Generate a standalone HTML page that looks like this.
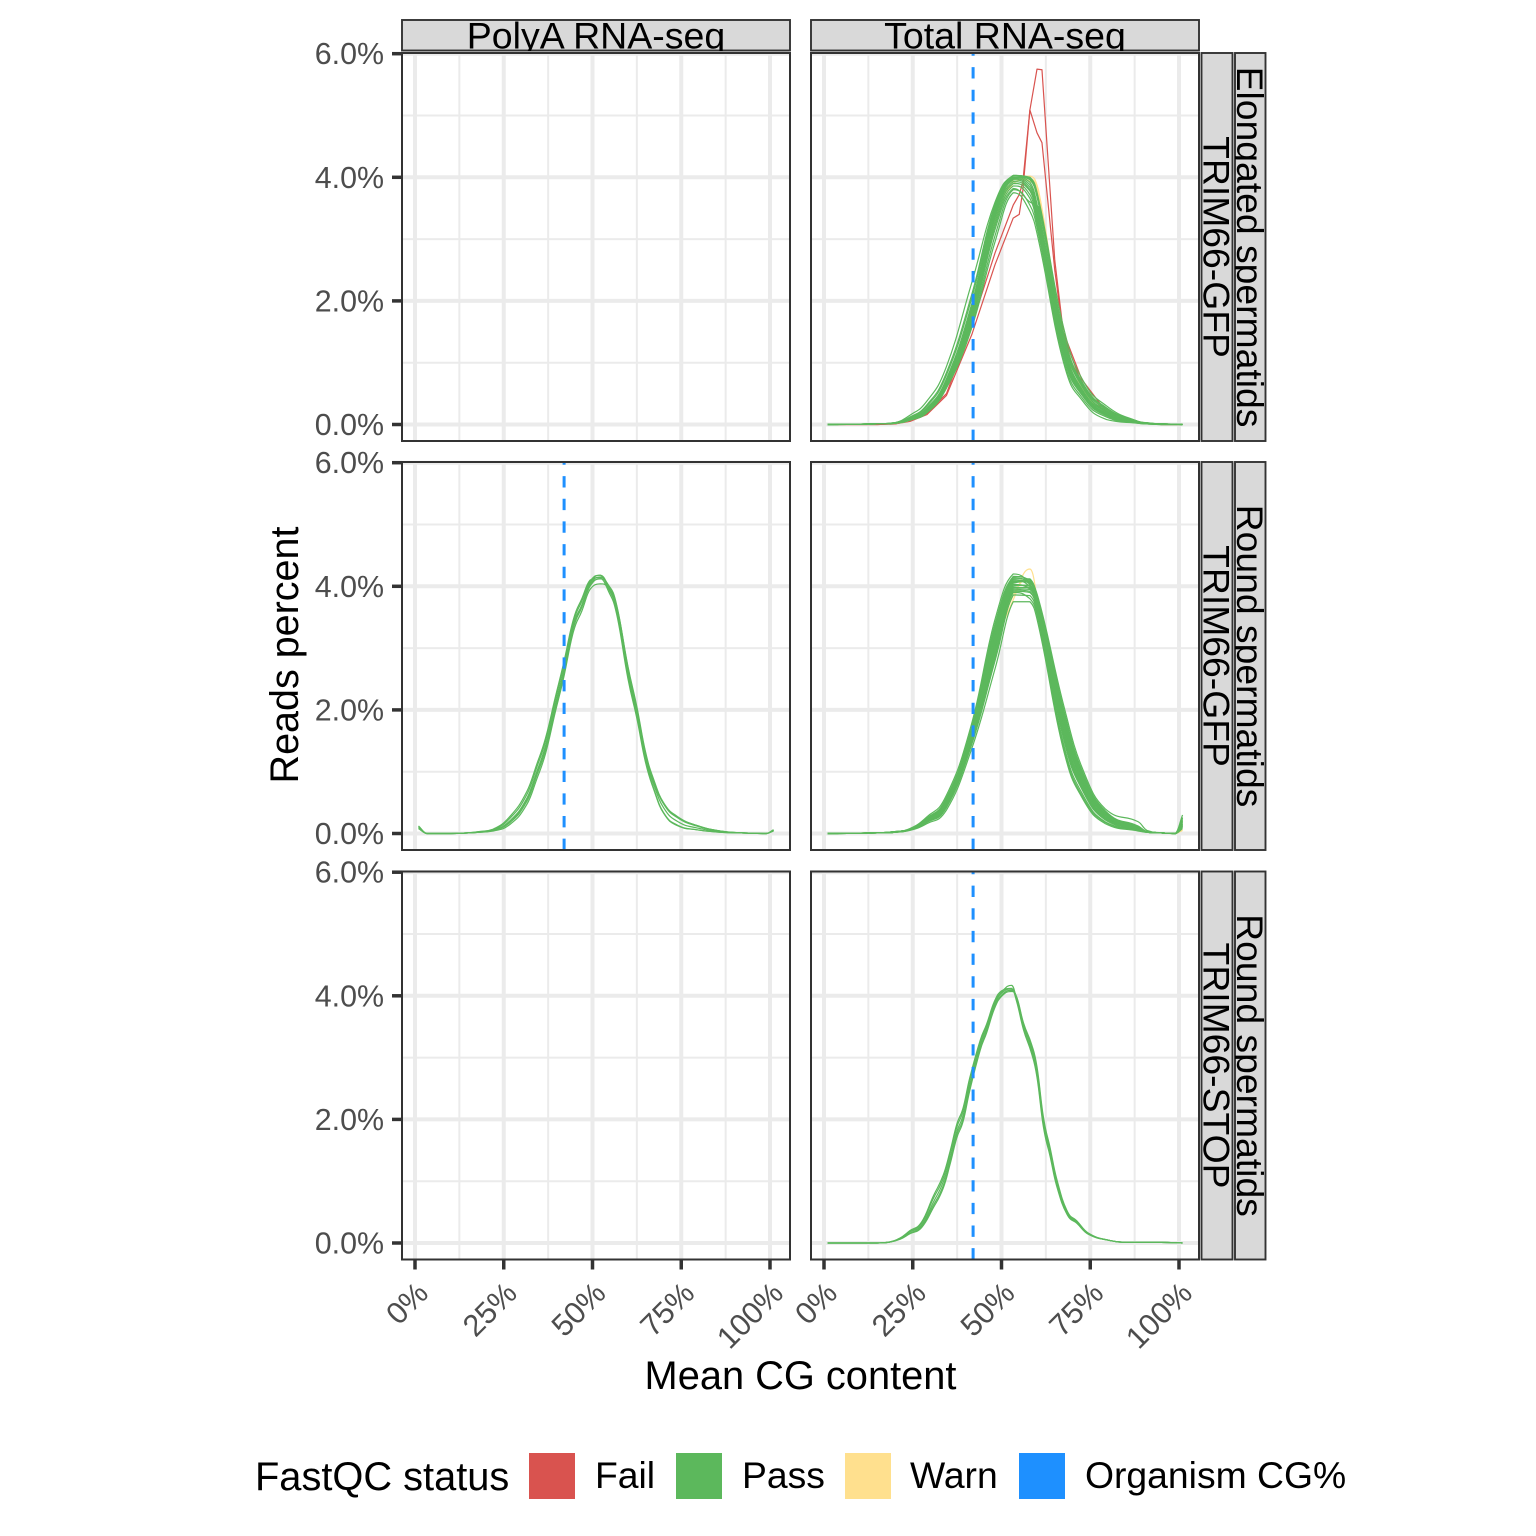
<!DOCTYPE html>
<html lang="en">
<head>
<meta charset="utf-8">
<title>FastQC GC content</title>
<style>
html,body{margin:0;padding:0;background:#fff;}
svg{display:block;font-family:"Liberation Sans",sans-serif;}
.strip{fill:#d9d9d9;stroke:#333;stroke-width:1.9;}
.st{font-size:37.5px;fill:#000;}
.sr{font-size:37.3px;fill:#000;}
.tt{font-size:39.8px;fill:#000;}
.ty{font-size:39.5px;fill:#000;}
.lg{font-size:37.3px;fill:#000;}
</style>
</head>
<body>
<svg id="chart" xmlns="http://www.w3.org/2000/svg" width="1536" height="1536" viewBox="0 0 1536 1536">
<defs>
<clipPath id="c1"><rect x="402" y="20" width="388" height="31"/></clipPath>
<clipPath id="c2"><rect x="811" y="20" width="388" height="31"/></clipPath>
<clipPath id="r1"><rect x="1201.5" y="53" width="31" height="388"/></clipPath>
<clipPath id="r2"><rect x="1235" y="53" width="30.5" height="388"/></clipPath>
<clipPath id="r3"><rect x="1201.5" y="462" width="31" height="388"/></clipPath>
<clipPath id="r4"><rect x="1235" y="462" width="30.5" height="388"/></clipPath>
<clipPath id="r5"><rect x="1201.5" y="871.5" width="31" height="388"/></clipPath>
<clipPath id="r6"><rect x="1235" y="871.5" width="30.5" height="388"/></clipPath>
</defs>
<rect width="1536" height="1536" fill="#fff"/>
<g id="plot-layer"></g>

<g>
<rect class="strip" x="402" y="20" width="388" height="30.5"/>
<g clip-path="url(#c1)"><text class="st" x="596" y="48.5" text-anchor="middle">PolyA RNA-seq</text></g>
</g>
<g>
<rect class="strip" x="811" y="20" width="388" height="30.5"/>
<g clip-path="url(#c2)"><text class="st" x="1005" y="48.5" text-anchor="middle">Total RNA-seq</text></g>
</g>

<g>
<rect class="strip" x="1201.5" y="53" width="31" height="388"/>
<g clip-path="url(#r1)"><text class="sr" transform="translate(1203.5,247) rotate(90)" text-anchor="middle">TRIM66-GFP</text></g>
</g>
<g>
<rect class="strip" x="1235" y="53" width="30.5" height="388"/>
<g clip-path="url(#r2)"><text class="sr" transform="translate(1237,247) rotate(90)" text-anchor="middle">Elongated spermatids</text></g>
</g>
<g>
<rect class="strip" x="1201.5" y="462" width="31" height="388"/>
<g clip-path="url(#r3)"><text class="sr" transform="translate(1203.5,656) rotate(90)" text-anchor="middle">TRIM66-GFP</text></g>
</g>
<g>
<rect class="strip" x="1235" y="462" width="30.5" height="388"/>
<g clip-path="url(#r4)"><text class="sr" transform="translate(1237,656) rotate(90)" text-anchor="middle">Round spermatids</text></g>
</g>
<g>
<rect class="strip" x="1201.5" y="871.5" width="31" height="388"/>
<g clip-path="url(#r5)"><text class="sr" transform="translate(1203.5,1065.5) rotate(90)" text-anchor="middle">TRIM66-STOP</text></g>
</g>
<g>
<rect class="strip" x="1235" y="871.5" width="30.5" height="388"/>
<g clip-path="url(#r6)"><text class="sr" transform="translate(1237,1065.5) rotate(90)" text-anchor="middle">Round spermatids</text></g>
</g>

<text class="tt" x="800.5" y="1389" text-anchor="middle">Mean CG content</text>
<text class="ty" transform="translate(298,655) rotate(-90)" text-anchor="middle">Reads percent</text>

<g>
<text class="tt" x="255" y="1490">FastQC status</text>
<rect x="529" y="1453" width="46" height="46" fill="#d9534f"/>
<text class="lg" x="595" y="1488">Fail</text>
<rect x="676" y="1453" width="46" height="46" fill="#5cb85c"/>
<text class="lg" x="742" y="1488">Pass</text>
<rect x="845" y="1453" width="46" height="46" fill="#ffe08e"/>
<text class="lg" x="910" y="1488">Warn</text>
<rect x="1019" y="1453" width="46" height="46" fill="#1e90ff"/>
<text class="lg" x="1085" y="1488">Organism CG%</text>
</g>
</svg>

<script>
/* ---------- axis data ---------- */
const xTickValues = [0, 25, 50, 75, 100];
const xTickLabels = ["0%", "25%", "50%", "75%", "100%"];
const xMinorValues = [12.5, 37.5, 62.5, 87.5];
const yTickValues = [0, 2, 4, 6];
const yTickLabels = ["0.0%", "2.0%", "4.0%", "6.0%"];
const yMinorValues = [1, 3, 5];
const organismCG = 42;

/* ---------- Elongated / Total ---------- */
const elongTotalX = [1,15,20,24.2,29,34.5,41.6,48.2,53.3,58,60.4,67.4,72.6,79.6,88.5,91,95,101];
const elongTotalFailX = [1,15,20,24.2,29,34.5,41.6,48.2,53.3,55,56,58,60,61.4,65,67.4,72.6,79.6,88.5,95,101];
const elongTotalFail = [
 [0,0,.01,.05,.16,.47,1.45,2.59,3.34,3.4,3.78,5.09,5.75,5.74,2.66,1.5,.73,.2,.04,0,0],
 [0,0,.01,.06,.18,.5,1.6,2.78,3.55,3.72,3.92,5.09,4.72,4.56,2.5,1.45,.66,.16,.03,0,0]
];
const elongTotalWarn = [
 [0,.01,.02,.08,.25,.68,1.8,3.32,3.95,4.02,3.8,1.4,.66,.24,.05,.02,.01,0],
 [0,.01,.02,.07,.23,.64,1.72,3.24,3.9,3.98,3.74,1.32,.6,.2,.04,.02,.01,0],
 [0,.01,.02,.08,.26,.7,1.86,3.38,3.98,3.94,3.68,1.25,.55,.17,.03,.02,.01,0]
];
const elongTotalPass = [
 [0,.01,.03,.15,.38,.94,2.29,3.6,4.03,4.0,3.66,1.59,.75,.3,.05,.03,.01,0],
 [0,.01,.02,.07,.19,.59,1.56,2.96,3.75,3.45,2.99,1.02,.4,.08,.02,.01,0,0],
 [0,.01,.03,.12,.32,.84,2.1,3.56,4.03,3.98,3.6,1.5,.7,.27,.05,.02,.01,0],
 [0,.01,.02,.1,.27,.74,1.95,3.5,4.02,3.92,3.46,1.4,.62,.22,.04,.02,.01,0],
 [0,.01,.02,.09,.25,.7,1.88,3.46,4.0,3.88,3.4,1.34,.58,.2,.04,.02,.01,0],
 [0,.01,.02,.09,.24,.68,1.84,3.42,3.98,3.84,3.34,1.3,.56,.18,.03,.02,.01,0],
 [0,.01,.02,.08,.23,.66,1.8,3.38,3.96,3.8,3.3,1.26,.54,.17,.03,.02,.01,0],
 [0,.01,.02,.08,.22,.64,1.76,3.34,3.93,3.78,3.26,1.22,.52,.16,.03,.01,.01,0],
 [0,.01,.02,.08,.22,.63,1.72,3.28,3.9,3.72,3.2,1.18,.5,.15,.03,.01,.01,0],
 [0,.01,.02,.08,.21,.62,1.68,3.22,3.86,3.66,3.14,1.14,.48,.14,.03,.01,0,0],
 [0,.01,.02,.07,.21,.61,1.65,3.16,3.82,3.6,3.52,1.42,.64,.2,.04,.02,.01,0],
 [0,.01,.02,.08,.26,.72,1.92,3.48,3.98,4.0,3.62,1.44,.66,.24,.05,.02,.01,0],
 [0,.01,.02,.07,.2,.6,1.6,3.06,3.8,3.55,3.08,1.08,.44,.12,.02,.01,0,0],
 [0,.01,.03,.11,.3,.8,2.04,3.54,4.03,3.96,3.58,1.48,.68,.26,.05,.02,.01,0]
];

/* ---------- Round GFP / PolyA ---------- */
const roundPolyX = [1,3.3,10,15,18,22,26.8,31.5,34.3,36.8,39.5,41.8,44.6,47,49.3,52.2,54.5,56.8,60,62.5,64.9,67.2,70,73.8,79.4,86,92,99,101];
const roundPolyPass = [
 [.12,0,0,.01,.02,.05,.21,.57,1.0,1.43,2.08,2.62,3.37,3.7,4.05,4.18,4.0,3.65,2.62,1.97,1.27,.84,.49,.27,.13,.04,.01,0,.06],
 [.08,0,0,.01,.03,.07,.28,.68,1.12,1.55,2.2,2.74,3.46,3.8,4.1,4.14,3.92,3.55,2.5,1.86,1.16,.72,.33,.13,.06,.02,.01,0,.04],
 [.1,0,0,.01,.02,.04,.15,.47,.88,1.3,1.96,2.5,3.26,3.6,3.95,4.04,3.98,3.68,2.7,2.05,1.33,.88,.5,.28,.13,.04,.01,0,.05],
 [.12,0,0,.01,.03,.06,.25,.63,1.07,1.5,2.15,2.69,3.42,3.76,4.08,4.18,3.96,3.6,2.55,1.9,1.2,.74,.34,.14,.06,.02,.01,0,.05],
 [.09,0,0,.01,.02,.05,.18,.52,.94,1.36,2.02,2.56,3.32,3.66,4.0,4.12,4.02,3.7,2.68,2.02,1.31,.86,.48,.26,.12,.04,.01,0,.06],
 [.1,0,0,.01,.02,.05,.2,.55,.97,1.4,2.05,2.58,3.34,3.68,4.02,4.15,3.99,3.63,2.58,1.94,1.24,.8,.42,.2,.09,.03,.01,0,.05]
];

/* ---------- Round GFP / Total ---------- */
const roundTotalX = [1,15,20,24.2,29,34.5,41.6,48.2,53.3,58,60.4,67.4,72.6,79.2,88.5,91,95,99,101];
const roundTotalWarn = [
 [0,.01,.02,.06,.2,.5,1.55,3.0,3.78,4.28,3.7,1.7,.8,.28,.08,.03,.01,0,.05],
 [0,.01,.02,.06,.21,.48,1.5,2.95,3.85,4.1,3.6,1.6,.75,.26,.1,.03,.01,0,.06]
];
const roundTotalPass = [
 [0,.01,.03,.08,.27,.62,1.78,3.47,4.2,4.05,3.8,2.1,1.08,.4,.19,.05,.01,0,.3],
 [0,.01,.02,.05,.16,.38,1.37,2.67,3.75,3.75,3.37,1.37,.59,.16,.04,.02,.01,0,.18],
 [0,.01,.03,.07,.25,.58,1.72,3.4,4.16,4.1,3.78,2.03,1.03,.37,.12,.03,.01,0,.25],
 [0,.01,.02,.06,.18,.42,1.44,2.8,3.86,3.85,3.48,1.47,.66,.19,.06,.02,.01,0,.1],
 [0,.01,.03,.07,.23,.55,1.66,3.3,4.1,4.0,3.72,1.95,.98,.34,.1,.03,.01,0,.22],
 [0,.01,.02,.06,.2,.46,1.5,2.9,3.92,3.9,3.55,1.55,.72,.22,.07,.02,.01,0,.12],
 [0,.01,.03,.07,.22,.52,1.62,3.22,4.05,4.08,3.68,1.88,.93,.31,.09,.03,.01,0,.2],
 [0,.01,.02,.06,.19,.47,1.53,3.0,3.96,3.95,3.6,1.62,.77,.24,.07,.02,.01,0,.08],
 [0,.01,.02,.07,.21,.5,1.58,3.12,4.0,4.02,3.64,1.8,.88,.29,.08,.03,.01,0,.16],
 [0,.01,.02,.06,.2,.48,1.55,3.05,3.98,3.98,3.62,1.7,.82,.26,.08,.02,.01,0,.14],
 [0,.01,.03,.07,.24,.56,1.68,3.35,4.12,4.12,3.76,2.0,1.0,.36,.11,.03,.01,0,.24],
 [0,.01,.02,.06,.19,.44,1.47,2.85,3.9,3.8,3.44,1.42,.62,.18,.05,.02,.01,0,.12],
 [0,.01,.02,.07,.22,.53,1.64,3.26,4.08,4.06,3.7,1.92,.95,.32,.09,.03,.01,0,.18],
 [0,.01,.02,.06,.2,.49,1.56,3.08,4.02,4.0,3.66,1.76,.85,.27,.08,.02,.01,0,.15],
 [0,.01,.03,.07,.23,.54,1.6,3.18,4.06,4.1,3.74,1.84,.9,.3,.09,.03,.01,0,.2],
 [0,.01,.02,.06,.18,.45,1.48,2.96,3.94,3.92,3.52,1.58,.74,.23,.07,.02,.01,0,.1],
 [0,.01,.02,.07,.21,.51,1.6,3.15,4.03,3.96,3.58,1.66,.8,.25,.08,.02,.01,0,.13],
 [0,.01,.03,.07,.24,.57,1.7,3.36,4.14,4.03,3.7,1.98,1.0,.35,.11,.03,.01,0,.26]
];

/* ---------- Round STOP / Total ---------- */
const stopTotalX = [1,10,15,18,21.4,24.2,27.5,30.8,33.6,35.5,37.4,39.2,41,44,45.8,48,50,52.9,54.3,56.2,58.5,60,61.8,63.7,65.5,68.4,71.2,74.5,80.6,85.3,95,101];
const stopTotalPass = [
 [0,0,0,.01,.07,.18,.29,.66,.99,1.37,1.8,2.07,2.55,3.2,3.47,3.85,4.04,4.11,3.96,3.52,3.15,2.77,1.96,1.47,.99,.5,.34,.15,.04,.01,.01,0],
 [0,0,0,.01,.08,.2,.34,.76,1.1,1.48,1.92,2.19,2.66,3.28,3.54,3.91,4.08,4.12,3.9,3.45,3.06,2.68,1.88,1.4,.93,.47,.32,.14,.04,.01,.01,0],
 [0,0,0,.01,.06,.15,.25,.57,.89,1.27,1.7,1.97,2.45,3.12,3.4,3.79,3.99,4.07,3.98,3.56,3.21,2.85,2.04,1.54,1.05,.53,.36,.16,.04,.01,.01,0],
 [0,0,0,.01,.07,.19,.32,.72,1.05,1.44,1.87,2.14,2.62,3.25,3.51,3.88,4.06,4.17,3.93,3.48,3.1,2.72,1.92,1.44,.96,.48,.33,.15,.04,.01,.01,0],
 [0,0,0,.01,.07,.16,.27,.61,.93,1.31,1.75,2.01,2.49,3.15,3.43,3.82,4.01,4.09,3.97,3.54,3.18,2.81,2.0,1.5,1.02,.52,.35,.15,.04,.01,.01,0]
];

/* ---------- drawing ---------- */
const NS = "http://www.w3.org/2000/svg";
const FAIL = "#d9534f", PASS = "#5cb85c", WARN = "#ffe08e", BLUE = "#1e90ff";
const layer = document.getElementById("plot-layer");

const colLeft = [402, 811];
const rowTop = [53, 462, 871.5];
const panelSize = 388;
const xZero = [415, 824];
const yZero = [424.5, 833.5, 1243];
function sx(col, v) { return xZero[col] + v * 3.55; }
function sy(row, v) { return yZero[row] - v * 61.8; }

function mk(tag, attrs, parent) {
  const e = document.createElementNS(NS, tag);
  for (const k in attrs) e.setAttribute(k, attrs[k]);
  (parent || layer).appendChild(e);
  return e;
}

function clampTo(v, a, b) {
  const lo = Math.min(a, b), hi = Math.max(a, b);
  return Math.max(lo, Math.min(hi, v));
}

/* straight polyline for sharp series, rounded path for smooth series */
function buildPath(px, py, smooth) {
  let d = "M" + px[0].toFixed(2) + " " + py[0].toFixed(2);
  for (let i = 1; i < px.length; i++) {
    if (!smooth) {
      d += "L" + px[i].toFixed(2) + " " + py[i].toFixed(2);
      continue;
    }
    const a = Math.max(0, i - 2), b = i - 1, c = i, e = Math.min(px.length - 1, i + 1);
    const k1 = (px[c] - px[b]) / Math.max(px[c] - px[a], 0.001) / 2.2;
    const k2 = (px[c] - px[b]) / Math.max(px[e] - px[b], 0.001) / 2.2;
    const c1x = px[b] + (px[c] - px[a]) * k1;
    const c1y = clampTo(py[b] + (py[c] - py[a]) * k1, py[b], py[c]);
    const c2x = px[c] - (px[e] - px[b]) * k2;
    const c2y = clampTo(py[c] - (py[e] - py[b]) * k2, py[b], py[c]);
    d += "C" + c1x.toFixed(2) + " " + c1y.toFixed(2) + " " + c2x.toFixed(2) + " " + c2y.toFixed(2) + " " + px[c].toFixed(2) + " " + py[c].toFixed(2);
  }
  return d;
}

function drawSeries(g, row, col, xs, ys, color, name, smooth) {
  const px = xs.map(function (v) { return sx(col, v); });
  const py = ys.map(function (v) { return sy(row, v); });
  const p = mk("path", {d: buildPath(px, py, smooth), fill: "none", stroke: color, "stroke-width": 1.2, "stroke-linejoin": "round"}, g);
  
  
}

function drawGroup(g, row, col, xs, group, color, name, smooth) {
  group.forEach(function (ys) { drawSeries(g, row, col, xs, ys, color, name, smooth); });
}

const panels = [
  {row: 0, col: 0, id: "elongated-polya", vline: false, groups: []},
  {row: 0, col: 1, id: "elongated-total", vline: true, groups: [
    [elongTotalFailX, elongTotalFail, FAIL, "fail-line", false],
    [elongTotalX, elongTotalWarn, WARN, "warn-line", true],
    [elongTotalX, elongTotalPass, PASS, "pass-line", true]]},
  {row: 1, col: 0, id: "round-gfp-polya", vline: true, groups: [
    [roundPolyX, roundPolyPass, PASS, "pass-line", true]]},
  {row: 1, col: 1, id: "round-gfp-total", vline: true, groups: [
    [roundTotalX, roundTotalWarn, WARN, "warn-line", true],
    [roundTotalX, roundTotalPass, PASS, "pass-line", true]]},
  {row: 2, col: 0, id: "round-stop-polya", vline: false, groups: []},
  {row: 2, col: 1, id: "round-stop-total", vline: true, groups: [
    [stopTotalX, stopTotalPass, PASS, "pass-line", true]]}
];

panels.forEach(function (pn) {
  const L = colLeft[pn.col], T = rowTop[pn.row], R = L + panelSize, B = T + panelSize;
  const g = mk("g", {});
  
  

  xMinorValues.forEach(function (v) {
    const l = mk("line", {x1: sx(pn.col, v), x2: sx(pn.col, v), y1: T, y2: B, stroke: "#ebebeb", "stroke-width": 2}, g);
    
    
  });
  yMinorValues.forEach(function (v) {
    const l = mk("line", {x1: L, x2: R, y1: sy(pn.row, v), y2: sy(pn.row, v), stroke: "#ebebeb", "stroke-width": 2}, g);
    
    
  });
  xTickValues.forEach(function (v) {
    const l = mk("line", {x1: sx(pn.col, v), x2: sx(pn.col, v), y1: T, y2: B, stroke: "#ebebeb", "stroke-width": 4}, g);
    
    
  });
  yTickValues.forEach(function (v) {
    const l = mk("line", {x1: L, x2: R, y1: sy(pn.row, v), y2: sy(pn.row, v), stroke: "#ebebeb", "stroke-width": 4}, g);
    
    
  });

  pn.groups.forEach(function (gr) {
    drawGroup(g, pn.row, pn.col, gr[0], gr[1], gr[2], gr[3], gr[4]);
  });

  if (pn.vline) {
    const v = mk("line", {x1: sx(pn.col, organismCG), x2: sx(pn.col, organismCG), y1: B, y2: T,
      stroke: BLUE, "stroke-width": 3, "stroke-dasharray": "11.33 11.33"}, g);
    
    
  }

  const border = mk("rect", {x: L, y: T, width: panelSize, height: panelSize, fill: "none", stroke: "#333", "stroke-width": 2}, g);
  
  

  if (pn.col === 0) {
    yTickValues.forEach(function (v, i) {
      const t = mk("line", {x1: L - 10, x2: L, y1: sy(pn.row, v), y2: sy(pn.row, v), stroke: "#333", "stroke-width": 3.5}, g);
      
      
      const lb = mk("text", {x: 384, y: sy(pn.row, v) + 10.5, "text-anchor": "end", "font-size": "30.4px", fill: "#4d4d4d"}, g);
      lb.textContent = yTickLabels[i];
      
      
    });
  }
  if (pn.row === 2) {
    xTickValues.forEach(function (v, i) {
      const t = mk("line", {x1: sx(pn.col, v), x2: sx(pn.col, v), y1: B, y2: B + 10, stroke: "#333", "stroke-width": 3.5}, g);
      
      
      const lb = mk("text", {"text-anchor": "end", "font-size": "30.6px", fill: "#4d4d4d",
        transform: "translate(" + (sx(pn.col, v) + 15) + "," + (B + 35.5) + ") rotate(-45)"}, g);
      lb.textContent = xTickLabels[i];
      
      
    });
  }
});
</script>
</body>
</html>
